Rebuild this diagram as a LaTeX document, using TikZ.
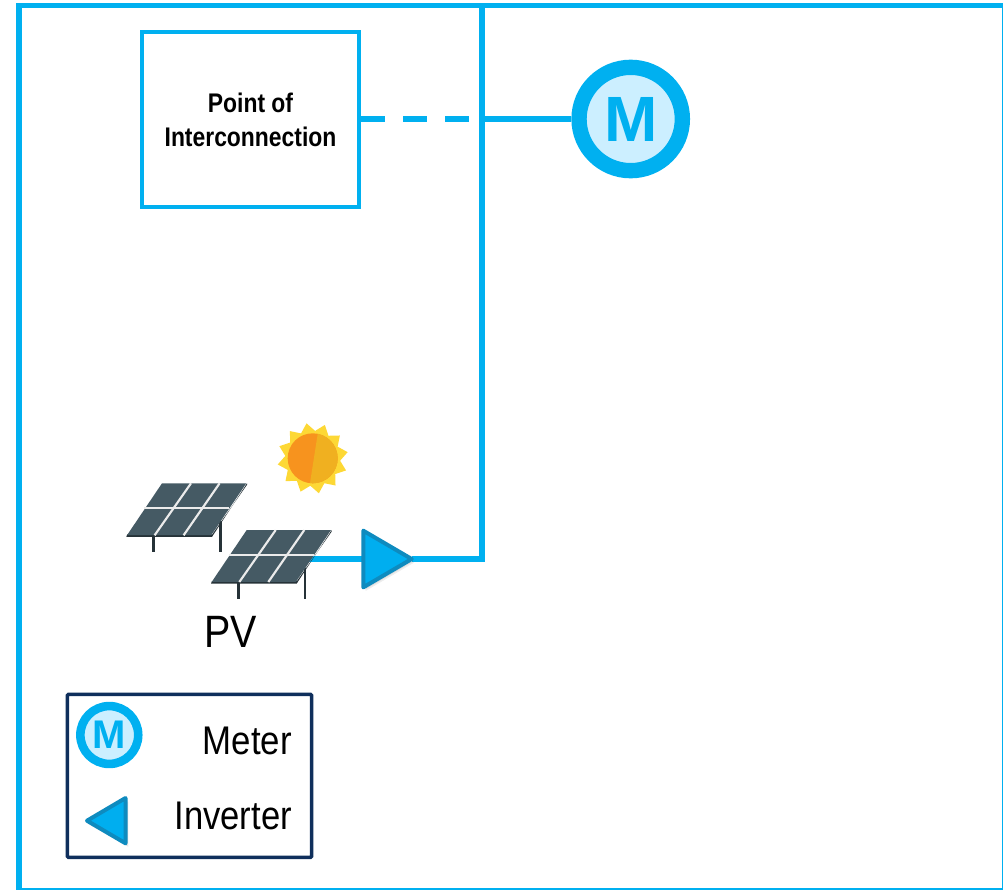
\documentclass[tikz,border=0pt]{standalone}
\usepackage{fontspec}
\setmainfont{Liberation Sans}
\usetikzlibrary{calc}
\definecolor{wire}{HTML}{00B0F0}
\definecolor{meterfill}{HTML}{CCEFFF}
\definecolor{invfill}{HTML}{00AEEF}
\definecolor{invedge}{HTML}{0E8BBF}
\definecolor{legendedge}{HTML}{0F2F5C}
\definecolor{panelface}{HTML}{455A64}
\definecolor{paneldark}{HTML}{263238}
\definecolor{sunray}{HTML}{FDD835}
\definecolor{sunleft}{HTML}{F7931E}
\definecolor{sunright}{HTML}{F0B020}
\tikzset{
  wireline/.style={draw=wire,line width=4.4pt},
  poibox/.style={draw=wire,line width=3pt,rectangle,minimum width=163pt,minimum height=131.5pt,inner sep=0pt,fill=white},
  invtri/.style={fill=invfill,draw=invedge,line width=3pt,line join=round},
  invshadow/.style={fill=black,opacity=.07,line join=round},
  bigtext/.style={font=\fontsize{30}{30}\selectfont,text=black,inner sep=0pt},
  poitext/.style={font=\bfseries\fontsize{20.2}{20.2}\selectfont,text=black,inner sep=0pt,xscale=.85},
  panelcell/.style={draw=white!92!black,line width=1.6pt},
  panelleg/.style={draw=paneldark,line width=1.9pt},
}
\newcommand{\solarpanel}[2]{%
  \begin{scope}[shift={(#1,#2)}]
    \draw[panelleg] (238.3,583) -- (238.3,598.5);
    \draw[panelleg] (305,568) -- (305,598.5);
    \fill[paneldark] (296.7,583.6) -- (211,583.6) -- (212,581) -- (297,581) -- (331.7,531.5) -- (331.7,530) -- cycle;
    \fill[panelface] (246.7,530) -- (331,530) -- (296,581.8) -- (211.8,581.8) -- cycle;
    \draw[panelcell] (275.7,530) -- (239.3,582);
    \draw[panelcell] (304.3,530) -- (268.3,582);
    \draw[panelcell] (229,555) -- (314,555);
  \end{scope}}
\newcommand{\metermark}[4]{% name, position, scale, font size
  \node[circle,draw=wire,fill=meterfill,line width=#3*11.5pt,minimum size=#3*77.5pt,inner sep=0pt,
        font=\bfseries\fontsize{#4}{#4}\selectfont,text=wire] (#1) at #2 {M};}
\begin{document}
\begin{tikzpicture}[x=.75pt,y=-.75pt]
\useasboundingbox (0,0) rectangle (1003,889);
% outer frame
\begin{scope}
  \clip (0,0) rectangle (1003,889);
  \draw[draw=wire,line width=4.4pt] (19,5.5) rectangle (1004.5,890.5);
\end{scope}
% bus
\coordinate (bustop) at (482.3,5.5);
\coordinate (busjoint) at (482.3,119);
\coordinate (buscorner) at (482.3,559);
\coordinate (dashend) at (469,119);
\coordinate (invin) at (363.3,559);
\coordinate (invout) at (411.7,559);
\coordinate (pvout) at (300,559);
% point of interconnection
\node[poibox] (poi) at (250.7,119.5) {};
\node[poitext,anchor=base] (poi1) at (250.5,112.7) {Point of};
\node[poitext,anchor=base] (poi2) at (250.5,146.7) {Interconnection};
% meter
\metermark{meter}{(630.7,119)}{1}{48}
% connectors
\draw[wireline] (bustop) -- (buscorner) -- (invout);
\draw[wireline] (busjoint) -- (meter.west);
\draw[draw=wire,line width=4.4pt,dash pattern=on 18pt off 13.5pt] (poi.east |- busjoint) -- (dashend);
\draw[wireline] (pvout) -- (invin);
% panels
\solarpanel{-84.7}{-46.7}
\solarpanel{0}{0}
% sun
\fill[sunray] ($(312.7,458.3)+(20:35.5)$)
  \foreach \a in {35,50,...,365}{ -- ($(312.7,458.3)+(\a:{mod(\a-20,30)==0 ? 35.5 : 27.5})$) } -- cycle;
\fill[sunleft] (312.7,458.3) circle[radius=25];
\begin{scope}
  \clip (318.3,430) -- (309.4,487) -- (345,487) -- (345,430) -- cycle;
  \fill[sunright] (312.7,458.3) circle[radius=25];
\end{scope}
% inverter
\foreach \d in {1,2,3}{
  \fill[invshadow] ($(363.3,530.7)+(\d*.8,\d*1.2)$) -- ($(411.7,559)+(\d*.8,\d*1.2)$) -- ($(363.3,587.3)+(\d*.8,\d*1.2)$) -- cycle;}
\draw[invtri] (363.3,530.7) -- (411.7,559) -- (363.3,587.3) -- cycle;
\node[bigtext,anchor=base west,font=\fontsize{34}{34}\selectfont,xscale=.87] (pvlabel) at (204,647) {PV};
% legend
\node[draw=legendedge,line width=2.6pt,rectangle,rounded corners=.8pt,minimum width=183.3pt,minimum height=122.2pt,inner sep=0pt] (legend) at (189.5,775.8) {};
\metermark{legendmeter}{(109.3,735)}{.56}{30}
\node[bigtext,anchor=base east,xscale=.87] (metertext) at (292,754) {Meter};
\foreach \d in {1,2,3}{
  \fill[invshadow] ($(86,820.7)+(\d*.8,\d*1.2)$) -- ($(126,798)+(\d*.8,\d*1.2)$) -- ($(126,843.3)+(\d*.8,\d*1.2)$) -- cycle;}
\draw[invtri] (87,820.7) -- (125.5,798) -- (125.5,843.3) -- cycle;
\node[bigtext,anchor=base east,xscale=.865] (invtext) at (292,829) {Inverter};
\end{tikzpicture}
\end{document}
